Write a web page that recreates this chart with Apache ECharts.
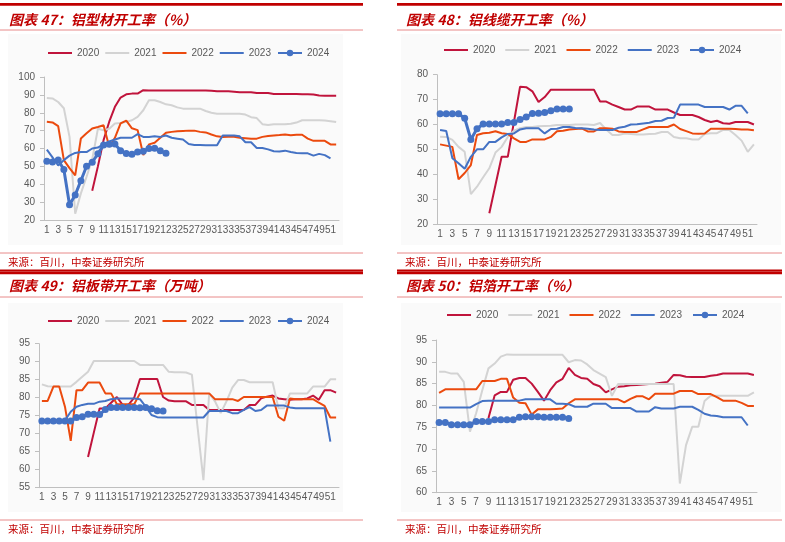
<!DOCTYPE html>
<html>
<head>
<meta charset="utf-8">
<script src="https://cdn.jsdelivr.net/npm/echarts@6/dist/echarts.min.js"></script>
<style>
    html, body { margin: 0; padding: 0; background: #fff; }
    #main { width: 785px; height: 542px; }
</style>
</head>
<body>
<div id="main"></div>
<script>
// 周次（横轴）
var weeks = ['1','2','3','4','5','6','7','8','9','10','11','12','13','14','15','16','17','18','19','20',
    '21','22','23','24','25','26','27','28','29','30','31','32','33','34','35','36','37','38','39','40',
    '41','42','43','44','45','46','47','48','49','50','51','52'];
var years = ['2020', '2021', '2022', '2023', '2024'];

// 图表47 铝型材开工率
var profile2020 = [null,null,null,null,null,null,null,null,36.4,50,64.7,75,83.3,88.5,90.3,90.7,90.7,92.6,92.5,92.5,
    92.5,92.5,92.5,92.5,92.5,92.5,92.5,92.5,92.5,92.3,92,92,92,91.8,91.5,91.5,91.5,91,91,91,
    90.5,90.5,90.5,90.5,90.5,90.3,90.3,90.2,89.7,89.5,89.5,89.5];
var profile2021 = [88.3,88,86,82.5,66.5,23.5,34.9,44.2,54,71,70.2,71,74,74.3,74.9,75.8,77.7,81.4,87,87,
    86,84.7,84.2,83,82.3,82.3,82.3,82.3,81,80,79.5,79.5,79.5,79.5,79.5,79,77.5,77,73.6,73.2,
    73.5,73.5,73.5,73.8,74.5,75.8,75.8,75.8,75.8,75.6,75.3,74.8];
var profile2022 = [74.9,74.6,72.5,53.5,49,45,65.6,68.5,71.2,72,73,61,66,74,75.6,71.3,70.3,56.4,62.3,63.2,
    66,68.8,69.3,69.6,69.8,70,70,69.3,69,67.8,66.8,66.5,66.6,66.6,66,65.8,65.5,65.5,66.5,67,
    67.3,67.5,67.8,67.4,67.7,67.7,65.5,64.3,64.3,64.3,62.3,62.3];
var profile2023 = [59.4,55,50.5,53.5,56,57.5,58,58,60,60.5,62.5,64,65,66,66,66,68,66.5,66.5,66.8,
    66.5,67.3,66,65.5,65,62.5,62,62,61.8,61.8,61.8,67.3,67.3,67.3,66.8,63.5,63.5,60.3,60.3,59.5,
    58.5,58.3,58.8,58,57.5,57.3,57.3,56,57,56.3,54.5,null];
var profile2024 = [52.9,52.4,53.5,48.2,28.5,34,42,50.1,52.3,57,62,62.4,62.5,58.8,57.2,56.8,58,58.4,60,60.2,
    58.7,57.4];

// 图表48 铝线缆开工率
var cable2020 = [null,null,null,null,null,null,null,null,24.3,35.7,47,47,61,75.2,75,73.3,69,71,74,74,
    74,74,74,74,74,74,69.2,69.2,68,67,66,66,67.2,67.2,67.2,66,66,66,64.8,63.8,
    63.8,63.8,63,61.8,61,61.5,60.5,60.3,61,61,61,60];
var cable2021 = [55.1,55,53.8,51,49,32,35,38.8,42.4,48.7,51,55,57.5,58.5,59,59,59.3,59.4,59.5,59.8,
    59.8,59.8,60,60,60,59.8,60.6,58,55.8,55.8,56.4,56.2,56,56,56.2,56.3,57,57,55,54.5,
    54.5,54,54,56.2,56.5,56.5,57.8,57.8,55.8,53.5,49,52];
var cable2022 = [52,51.5,51,38,40.5,43.7,55.8,56.5,56.7,57.3,56.5,56.2,54.4,53,53,54,54,54,55,57.3,
    57.5,58,58.2,58.4,57.2,57.2,58.5,58.5,58.3,57.2,57,57,57,58,59,59,59,59,60,58.2,
    57.3,56.4,56.3,56.4,58.3,58.3,58.3,58.3,58.2,58,58,57.7];
var cable2023 = [57.8,57.4,46.4,44.4,42.2,47,50,50,53,53,54.8,56.2,56.4,58,58.5,58.5,58.5,56.4,58.2,58.3,
    59,59,58.6,58.5,58.3,58,57.8,57.8,57.8,58.7,59.1,60,60.1,60.4,60.7,61.4,61.5,62.6,62.7,68,
    68,68,68,67,67,67,67,66,67.5,67.5,64.5,null];
var cable2024 = [64.3,64.3,64.3,64.3,62.5,54,58.3,60.2,60.2,60.2,60.2,60.8,60.8,62,63,64.4,64.5,64.8,65.5,66.2,
    66.2,66.2];

// 图表49 铝板带开工率
var sheet2020 = [null,null,null,null,null,null,null,null,63.5,70.3,77,77,78.6,80.2,78,78,80,85.2,85.2,85.2,
    85.2,80.2,79.2,79,79,79,78,78,78,76.6,76.6,76.6,76.6,76.6,76.6,76.6,78,78,79.8,80.3,
    80.6,79.8,79.6,79.4,79.6,79.6,79.8,80.6,79.4,82.1,82.1,81.4];
var sheet2021 = [83.7,83.2,83.1,83.1,83.1,83.1,84.4,85.8,87.2,90.2,90.2,90.2,90.2,90.2,90.2,90.2,90.2,89.1,89.1,89.1,
    89.1,89.1,87.2,87.1,87.1,87,86.4,71.6,57.1,81.2,79,75.7,79,82.8,84.9,84.9,84.3,84.3,84.3,84.3,
    84.3,77.1,77.1,81.2,81.2,81.2,81.2,83.1,83.1,83.1,85.1,85.1];
var sheet2022 = [79.1,79.1,83.1,83.1,77.5,68,82.1,82.1,84.2,84.2,84.2,81.2,81.2,78.2,78.2,78.2,78.2,81.2,81.2,81.2,
    81.2,81.2,81.2,81.2,81.2,81.2,81.2,81.2,81.2,81.2,79.6,79.6,79.6,79.6,79.1,80.2,80.2,80.2,80.2,80.2,
    80.2,74.7,73.6,79.8,79.6,79.6,79.6,79.6,78.6,77.7,74.5,74.5];
var sheet2023 = [73.7,73.7,73.7,73.7,73.7,76.1,77.5,78,78.3,78.3,78.9,79.1,79.6,79.8,79.8,79.8,79.8,79.6,77.5,75.2,
    74.6,74.5,74.5,74.5,74.5,74.5,74.5,74.5,74.5,76.3,76.3,76.3,76.3,75.7,75.7,76.6,77.4,76.3,76.6,77.8,
    77.8,77.8,77.8,77.3,77.1,77.1,77.1,77.1,77.1,77.1,67.8,null];
var sheet2024 = [73.5,73.5,73.5,73.5,73.5,73.5,74.5,74.7,75.4,75.4,75.3,76.7,77.3,77.3,77.3,77.3,77.3,77.2,77.3,76.9,
    76.4,76.3];

// 图表50 铝箔开工率
var foil2020 = [null,null,null,null,null,null,null,null,77.1,82.3,83.1,83.1,85.9,86.3,86.3,85,83.1,81.1,83.5,85.3,
    86.1,88.6,87,86.3,86.1,84.9,84.4,83,83.7,84.3,84.4,84.6,84.7,84.8,84.9,85,85.2,85.4,87,86.9,
    86.6,86.5,86.5,86.5,86.8,87,87.3,87.3,87.3,87.3,87.3,87];
var foil2021 = [87.7,87.7,87.3,87.3,85.4,74,78.2,83.5,88.5,89.6,91.2,91.7,91.6,91.6,91.6,91.6,91.6,91.6,91.6,91.6,
    91.6,89.9,90.4,90.3,89.4,88.1,87.3,86.5,82.2,84.9,84.9,84.9,84.9,84.9,84.9,84.9,84.9,84.9,84.9,62.1,
    70.9,75.1,75.1,81,82.2,82.2,82.2,82.2,82.2,82.2,82.2,83];
var foil2022 = [82.9,83.7,83.7,83.7,83.7,83.7,83.7,85.6,85.6,85.6,86.1,86.1,81.8,80.6,80.5,77.9,79.1,79.1,79.1,79.2,
    79.3,80.5,81.4,81.4,81.4,81.4,81.4,81.4,81.4,81.4,80.7,81.5,82.1,82.1,81.4,82.7,82.7,82.7,82.7,83.3,
    83.3,83.3,82.6,82.6,82.6,81.9,81.1,81.1,81.1,80.6,79.9,79.9];
var foil2023 = [79.5,79.5,79.5,79.5,79.5,79.5,80.3,81,81.1,81.1,81.1,81.1,81.1,81.1,81.4,81.4,81.4,81.4,81.4,80.4,
    80.4,80.3,79.7,79.7,79.7,80.4,80.4,80.4,79.4,79.4,79.4,79.4,78.6,78.6,78.6,79.6,79.3,79.3,79.3,79.7,
    79.7,79.7,79,78.1,77.7,77.6,77.3,77.3,77.3,77.3,75.4,null];
var foil2024 = [76.1,76.1,75.6,75.6,75.6,75.6,76.3,76.3,76.3,76.7,76.7,76.7,76.7,77.3,77.4,77.4,77.4,77.3,77.3,77.3,
    77.3,77];

var panelData = [
    [profile2020, profile2021, profile2022, profile2023, profile2024],
    [cable2020, cable2021, cable2022, cable2023, cable2024],
    [sheet2020, sheet2021, sheet2022, sheet2023, sheet2024],
    [foil2020, foil2021, foil2022, foil2023, foil2024]
];
var titles = ['图表 47：铝型材开工率（%）', '图表 48：铝线缆开工率（%）', '图表 49：铝板带开工率（万吨）', '图表 50：铝箔开工率（%）'];
var yRange = [[20, 100, 10], [20, 80, 10], [55, 95, 5], [60, 95, 5]];

var colors = ['#C0143C', '#D3D3D3', '#EB4A0E', '#4472C4', '#4472C4'];
var red = '#C00000';
var lightRed = '#E88A8A';
var cjk = '"Noto Sans CJK SC", sans-serif';

// 每个小图的位置
var grids = [
    { left: 44, top: 77, width: 295, height: 143 },
    { left: 437, top: 74.7, width: 320, height: 149.3 },
    { left: 39, top: 343.7, width: 300, height: 144 },
    { left: 436, top: 340, width: 321, height: 152.7 }
];
var legendPos = [
    { left: 48, top: 48, itemGap: 6 },
    { left: 444, top: 45, itemGap: 10 },
    { left: 48, top: 316, itemGap: 6 },
    { left: 447, top: 310, itemGap: 10 }
];
// 面板框：x, 顶部红条y, 标题y, 来源线y
var panels = [
    { x: 0, w: 363, top: 3, titleY: 20, line: 30, src: 253, srcY: 262, bottom: 269.5, bg: [8, 34, 335, 211] },
    { x: 397, w: 385, top: 3, titleY: 20, line: 30, src: 253, srcY: 262, bottom: 269.5, bg: [401, 34, 380, 211] },
    { x: 0, w: 363, top: 271.5, titleY: 286, line: 297, src: 520, srcY: 529, bottom: null, bg: [8, 303, 335, 209] },
    { x: 397, w: 385, top: 271.5, titleY: 286, line: 297, src: 520, srcY: 529, bottom: null, bg: [401, 303, 380, 209] }
];

// 图例：前四年只画线，2024 画线加圆点
var thinLine = 'path://M0,0L24,0L24,2L0,2Z';
var legendItems = [
    { name: '2020', icon: thinLine },
    { name: '2021', icon: thinLine },
    { name: '2022', icon: thinLine },
    { name: '2023', icon: thinLine },
    { name: '2024' }
];

var xAxes = [], yAxes = [], series = [], legends = [], graphics = [];

for (var p = 0; p < 4; p++) {
    var pn = panels[p];
    // 背景、红条、分隔线、标题、来源
    graphics.push({ type: 'rect', silent: true, z: -10, shape: { x: pn.bg[0], y: pn.bg[1], width: pn.bg[2], height: pn.bg[3] }, style: { fill: '#FAFAFA' } });
    graphics.push({ type: 'rect', silent: true, shape: { x: pn.x, y: pn.top, width: pn.w, height: 2.7 }, style: { fill: red } });
    if (pn.bottom !== null) {
        graphics.push({ type: 'rect', silent: true, shape: { x: pn.x, y: pn.bottom, width: pn.w, height: 2 }, style: { fill: red } });
    }
    graphics.push({ type: 'line', silent: true, shape: { x1: pn.x, y1: pn.line, x2: pn.x + pn.w, y2: pn.line }, style: { stroke: lightRed, lineWidth: 1 } });
    graphics.push({ type: 'line', silent: true, shape: { x1: pn.x, y1: pn.src, x2: pn.x + pn.w, y2: pn.src }, style: { stroke: lightRed, lineWidth: 1 } });
    graphics.push({
        type: 'text', silent: true, x: pn.x + 9, y: pn.titleY,
        style: { text: titles[p], fill: red, font: 'italic bold 14px ' + cjk, textVerticalAlign: 'middle' }
    });
    graphics.push({
        type: 'text', silent: true, x: pn.x + 8, y: pn.srcY,
        style: { text: '来源：百川，中泰证券研究所', fill: red, font: '10.5px ' + cjk, textVerticalAlign: 'middle' }
    });

    xAxes.push({
        type: 'category',
        gridIndex: p,
        data: weeks,
        boundaryGap: true,
        axisLine: { lineStyle: { color: '#BFBFBF' } },
        axisTick: { interval: 0, length: 3, lineStyle: { color: '#BFBFBF' } },
        axisLabel: { interval: 1, color: '#595959', fontSize: 10, margin: 5, fontFamily: 'Liberation Sans' }
    });
    yAxes.push({
        type: 'value',
        gridIndex: p,
        min: yRange[p][0],
        max: yRange[p][1],
        interval: yRange[p][2],
        splitLine: { show: false },
        axisLine: { show: true, lineStyle: { color: '#BFBFBF' } },
        axisTick: { show: true, length: 4, lineStyle: { color: '#BFBFBF' } },
        axisLabel: { color: '#595959', fontSize: 10, margin: 9, fontFamily: 'Liberation Sans' }
    });
    legends.push({
        left: legendPos[p].left,
        top: legendPos[p].top,
        itemGap: legendPos[p].itemGap,
        itemWidth: 24,
        itemHeight: 8,
        padding: 0,
        symbolKeepAspect: true,
        data: legendItems,
        textStyle: { color: '#595959', fontSize: 10, fontFamily: 'Liberation Sans' }
    });

    for (var k = 0; k < years.length; k++) {
        var is2024 = (k === 4);
        series.push({
            name: years[k],
            type: 'line',
            xAxisIndex: p,
            yAxisIndex: p,
            data: panelData[p][k],
            smooth: false,
            symbol: is2024 ? 'circle' : 'none',
            symbolSize: is2024 ? 7 : 0,
            showSymbol: is2024,
            showAllSymbol: true,
            connectNulls: false,
            color: colors[k],
            lineStyle: { width: is2024 ? 3 : 2, color: colors[k] },
            itemStyle: { color: colors[k] },
            z: 2 + k
        });
    }
}

var myChart = echarts.init(document.getElementById('main'));
var option = {
    animation: false,
    backgroundColor: '#ffffff',
    textStyle: { fontFamily: 'Liberation Sans, "Noto Sans CJK SC", sans-serif' },
    grid: grids,
    xAxis: xAxes,
    yAxis: yAxes,
    legend: legends,
    series: series,
    graphic: graphics
};
myChart.setOption(option);
window.addEventListener('resize', function () {
    myChart.resize();
});
</script>
</body>
</html>
